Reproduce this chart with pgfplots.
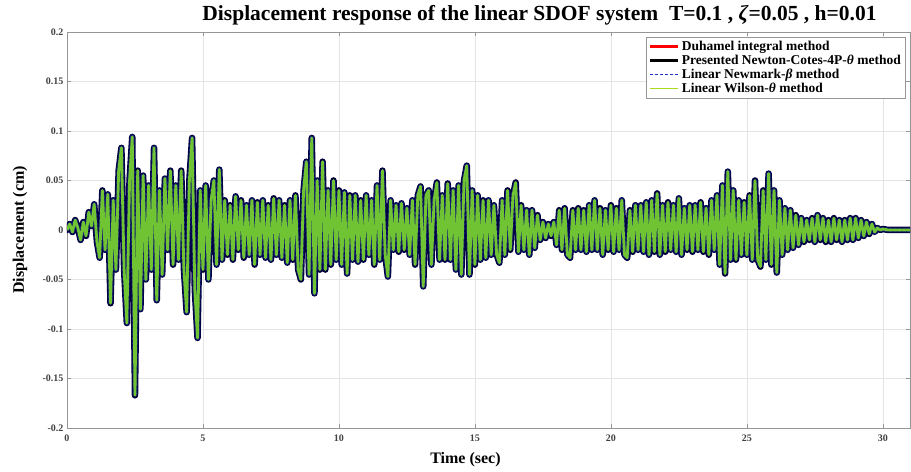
\documentclass[border=0pt]{standalone}
\usepackage{fontspec}
\setmainfont{Liberation Serif}
\usepackage{pgfplots}
\usepackage{pgfplotstable}
\pgfplotsset{compat=1.18}
\definecolor{wgreen}{RGB}{112,196,52}
\definecolor{nblue}{RGB}{30,50,200}
\definecolor{gridgray}{RGB}{228,228,228}
\definecolor{boxgray}{RGB}{150,150,150}

\pgfplotstableread[row sep=\\]{
t y\\
0.0 0\\ 0.1 0.006\\ 0.2 -0.002\\ 0.3 0.010\\ 0.4 0.002\\ 0.5 -0.010\\ 0.6 0.008\\ 0.7 -0.006\\ 0.8 0.018\\ 0.9 0.004\\
1.0 0.026\\ 1.1 -0.012\\ 1.2 -0.028\\ 1.3 0.040\\ 1.4 -0.020\\ 1.5 0.036\\ 1.6 -0.074\\ 1.7 0.030\\ 1.8 -0.040\\ 1.9 0.060\\
2.0 0.083\\ 2.1 -0.040\\ 2.2 -0.094\\ 2.3 0.050\\ 2.4 0.094\\ 2.5 -0.167\\ 2.6 0.060\\ 2.7 -0.080\\ 2.8 0.055\\ 2.9 -0.050\\
3.0 0.045\\ 3.1 -0.040\\ 3.2 0.083\\ 3.3 -0.071\\ 3.4 0.040\\ 3.5 -0.045\\ 3.6 0.052\\ 3.7 -0.020\\ 3.8 0.060\\ 3.9 -0.035\\
4.0 0.045\\ 4.1 -0.030\\ 4.2 0.060\\ 4.3 -0.040\\ 4.4 -0.083\\ 4.5 0.050\\ 4.6 0.093\\ 4.7 -0.060\\ 4.8 -0.109\\ 4.9 0.040\\
5.0 -0.040\\ 5.1 0.045\\ 5.2 -0.050\\ 5.3 0.030\\ 5.4 0.050\\ 5.5 -0.035\\ 5.6 0.061\\ 5.7 -0.030\\ 5.8 0.030\\ 5.9 -0.025\\
6.0 0.025\\ 6.1 -0.030\\ 6.2 0.034\\ 6.3 -0.020\\ 6.4 0.030\\ 6.5 -0.028\\ 6.6 0.025\\ 6.7 -0.025\\ 6.8 0.030\\ 6.9 -0.035\\
7.0 0.028\\ 7.1 -0.025\\ 7.2 0.030\\ 7.3 -0.028\\ 7.4 0.025\\ 7.5 -0.030\\ 7.6 0.032\\ 7.7 -0.025\\ 7.8 0.030\\ 7.9 -0.028\\
8.0 0.025\\ 8.1 -0.033\\ 8.2 0.030\\ 8.3 -0.030\\ 8.4 0.035\\ 8.5 -0.040\\ 8.6 -0.050\\ 8.7 0.040\\ 8.8 0.069\\ 8.9 -0.045\\
9.0 0.093\\ 9.1 -0.064\\ 9.2 0.050\\ 9.3 -0.040\\ 9.4 0.069\\ 9.5 -0.040\\ 9.6 0.040\\ 9.7 -0.035\\ 9.8 0.050\\ 9.9 -0.030\\
10.0 0.040\\ 10.1 -0.035\\ 10.2 0.038\\ 10.3 -0.044\\ 10.4 0.035\\ 10.5 -0.030\\ 10.6 0.035\\ 10.7 -0.032\\ 10.8 0.030\\ 10.9 -0.030\\
11.0 0.035\\ 11.1 -0.025\\ 11.2 0.030\\ 11.3 -0.035\\ 11.4 0.045\\ 11.5 -0.030\\ 11.6 0.060\\ 11.7 -0.025\\ 11.8 -0.047\\ 11.9 0.030\\
12.0 -0.020\\ 12.1 0.025\\ 12.2 -0.022\\ 12.3 0.027\\ 12.4 -0.020\\ 12.5 0.022\\ 12.6 -0.025\\ 12.7 0.030\\ 12.8 -0.035\\ 12.9 0.035\\
13.0 0.044\\ 13.1 -0.057\\ 13.2 0.035\\ 13.3 0.040\\ 13.4 -0.035\\ 13.5 0.030\\ 13.6 0.048\\ 13.7 -0.030\\ 13.8 0.035\\ 13.9 -0.030\\
14.0 0.047\\ 14.1 -0.030\\ 14.2 0.040\\ 14.3 -0.040\\ 14.4 0.045\\ 14.5 -0.045\\ 14.6 0.050\\ 14.7 0.065\\ 14.8 -0.045\\ 14.9 0.040\\
15.0 -0.035\\ 15.1 0.035\\ 15.2 -0.030\\ 15.3 0.030\\ 15.4 -0.028\\ 15.5 0.030\\ 15.6 -0.025\\ 15.7 0.025\\ 15.8 -0.025\\ 15.9 -0.033\\
16.0 0.030\\ 16.1 -0.025\\ 16.2 0.040\\ 16.3 -0.020\\ 16.4 0.035\\ 16.5 0.048\\ 16.6 -0.022\\ 16.7 0.025\\ 16.8 -0.020\\ 16.9 0.020\\
17.0 -0.025\\ 17.1 0.020\\ 17.2 -0.018\\ 17.3 0.015\\ 17.4 -0.010\\ 17.5 0.008\\ 17.6 -0.008\\ 17.7 0.006\\ 17.8 -0.006\\ 17.9 0.008\\
18.0 -0.015\\ 18.1 0.020\\ 18.2 -0.020\\ 18.3 0.022\\ 18.4 -0.025\\ 18.5 -0.028\\ 18.6 0.020\\ 18.7 -0.020\\ 18.8 0.022\\ 18.9 -0.020\\
19.0 0.020\\ 19.1 -0.022\\ 19.2 0.025\\ 19.3 -0.020\\ 19.4 0.030\\ 19.5 -0.020\\ 19.6 0.022\\ 19.7 -0.025\\ 19.8 0.020\\ 19.9 -0.020\\
20.0 0.025\\ 20.1 -0.022\\ 20.2 0.022\\ 20.3 -0.020\\ 20.4 0.030\\ 20.5 -0.025\\ 20.6 -0.028\\ 20.7 0.020\\ 20.8 -0.022\\ 20.9 0.025\\
21.0 -0.020\\ 21.1 0.025\\ 21.2 -0.022\\ 21.3 0.028\\ 21.4 -0.025\\ 21.5 0.030\\ 21.6 -0.022\\ 21.7 0.037\\ 21.8 -0.025\\ 21.9 0.025\\
22.0 -0.022\\ 22.1 0.028\\ 22.2 -0.020\\ 22.3 0.025\\ 22.4 -0.022\\ 22.5 0.032\\ 22.6 -0.025\\ 22.7 0.022\\ 22.8 -0.020\\ 22.9 0.025\\
23.0 -0.022\\ 23.1 0.025\\ 23.2 -0.020\\ 23.3 0.028\\ 23.4 -0.022\\ 23.5 0.022\\ 23.6 -0.025\\ 23.7 0.030\\ 23.8 -0.020\\ 23.9 0.035\\
24.0 -0.035\\ 24.1 0.045\\ 24.2 -0.044\\ 24.3 0.059\\ 24.4 -0.030\\ 24.5 0.040\\ 24.6 -0.030\\ 24.7 0.030\\ 24.8 -0.025\\ 24.9 0.028\\
25.0 -0.025\\ 25.1 0.035\\ 25.2 -0.030\\ 25.3 0.050\\ 25.4 -0.030\\ 25.5 -0.037\\ 25.6 0.040\\ 25.7 -0.030\\ 25.8 0.057\\ 25.9 -0.035\\
26.0 0.040\\ 26.1 -0.043\\ 26.2 0.030\\ 26.3 -0.025\\ 26.4 0.022\\ 26.5 -0.020\\ 26.6 0.020\\ 26.7 -0.018\\ 26.8 0.015\\ 26.9 -0.015\\
27.0 0.012\\ 27.1 -0.012\\ 27.2 0.010\\ 27.3 -0.010\\ 27.4 0.012\\ 27.5 -0.012\\ 27.6 0.015\\ 27.7 -0.010\\ 27.8 0.012\\ 27.9 -0.012\\
28.0 0.010\\ 28.1 -0.012\\ 28.2 0.012\\ 28.3 -0.010\\ 28.4 0.010\\ 28.5 -0.012\\ 28.6 0.010\\ 28.7 -0.010\\ 28.8 0.012\\ 28.9 -0.010\\
29.0 0.012\\ 29.1 -0.008\\ 29.2 0.010\\ 29.3 -0.006\\ 29.4 0.008\\ 29.5 -0.004\\ 29.6 0.006\\ 29.7 -0.002\\ 29.8 0.002\\ 29.9 0.000\\
30.0 0.001\\ 30.2 0.000\\ 30.4 0.000\\ 30.6 0.000\\ 30.8 0.000\\ 31.0 0.000\\
}\resp

\begin{document}
\begin{tikzpicture}
\begin{axis}[
  name=ax,
  scale only axis,
  width=843pt, height=396pt,
  xmin=0, xmax=31, ymin=-0.2, ymax=0.2,
  xtick={0,5,...,30},
  ytick={-0.2,-0.15,-0.1,-0.05,0,0.05,0.1,0.15,0.2},
  yticklabels={-0.2,-0.15,-0.1,-0.05,0,0.05,0.1,0.15,0.2},
  xticklabels={0,5,10,15,20,25,30},
  grid=major,
  major grid style={gridgray, line width=0.6pt},
  axis line style={boxgray, line width=0.8pt},
  tick style={boxgray},
  major tick length=4pt,
  tick label style={font=\bfseries\fontsize{10}{12}\selectfont, text=black!75},
  xticklabel style={yshift=-3pt},
  /pgf/number format/assume math mode=true,
  title={\bfseries\fontsize{21.5}{24}\selectfont Displacement response of the linear SDOF system\ \ T=0.1 , \textit{ζ}=0.05 , h=0.01},
  title style={at={(rel axis cs:0.5,1)}, anchor=base, yshift=5pt, xshift=51pt},
  xlabel={\bfseries\fontsize{16}{19}\selectfont Time (sec)},
  every axis x label/.style={at={(rel axis cs:0.5,0)}, anchor=center, yshift=-32pt, xshift=-23pt},
  ylabel={\bfseries\fontsize{16}{19}\selectfont Displacement (cm)},
  every axis y label/.style={at={(rel axis cs:0,0.5)}, xshift=-47pt, rotate=90, anchor=center},
  legend cell align=left,
  legend style={at={(rel axis cs:1,1)}, anchor=north east, xshift=-5pt, yshift=-5pt,
     font=\bfseries\fontsize{13.5}{16}\selectfont, draw=boxgray, fill=white,
     inner sep=2pt, row sep=-1pt},
  legend image code/.code={\draw[#1] (0pt,0pt) -- (28pt,0pt);},
]
\addlegendimage{red, line width=3pt}
\addlegendentry{Duhamel integral method}
\addlegendimage{black, line width=3.5pt}
\addlegendentry{Presented Newton-Cotes-4P-\textit{θ} method}
\addlegendimage{nblue, line width=1.5pt, dash pattern=on 2.5pt off 2.5pt}
\addlegendentry{Linear Newmark-\textit{β} method}
\addlegendimage{wgreen!60!yellow, line width=0.8pt}
\addlegendentry{Linear Wilson-\textit{θ} method}

\addplot[forget plot, red, line width=5pt, line join=round] table[x=t,y=y]{\resp};
\addplot[forget plot, black!75!blue, line width=6.5pt, line join=round, line cap=round] table[x=t,y=y]{\resp};
\addplot[forget plot, nblue!60!black, line width=4.5pt, dash pattern=on 3pt off 1.5pt, line join=round] table[x=t,y=y]{\resp};
\addplot[forget plot, wgreen, line width=2.8pt, line join=round] table[x=t,y=y]{\resp};
\end{axis}
\pgfresetboundingbox
\path[use as bounding box] ([xshift=-67pt,yshift=-44pt]ax.south west) rectangle ([xshift=1pt,yshift=32pt]ax.north east);
\end{tikzpicture}
\end{document}
